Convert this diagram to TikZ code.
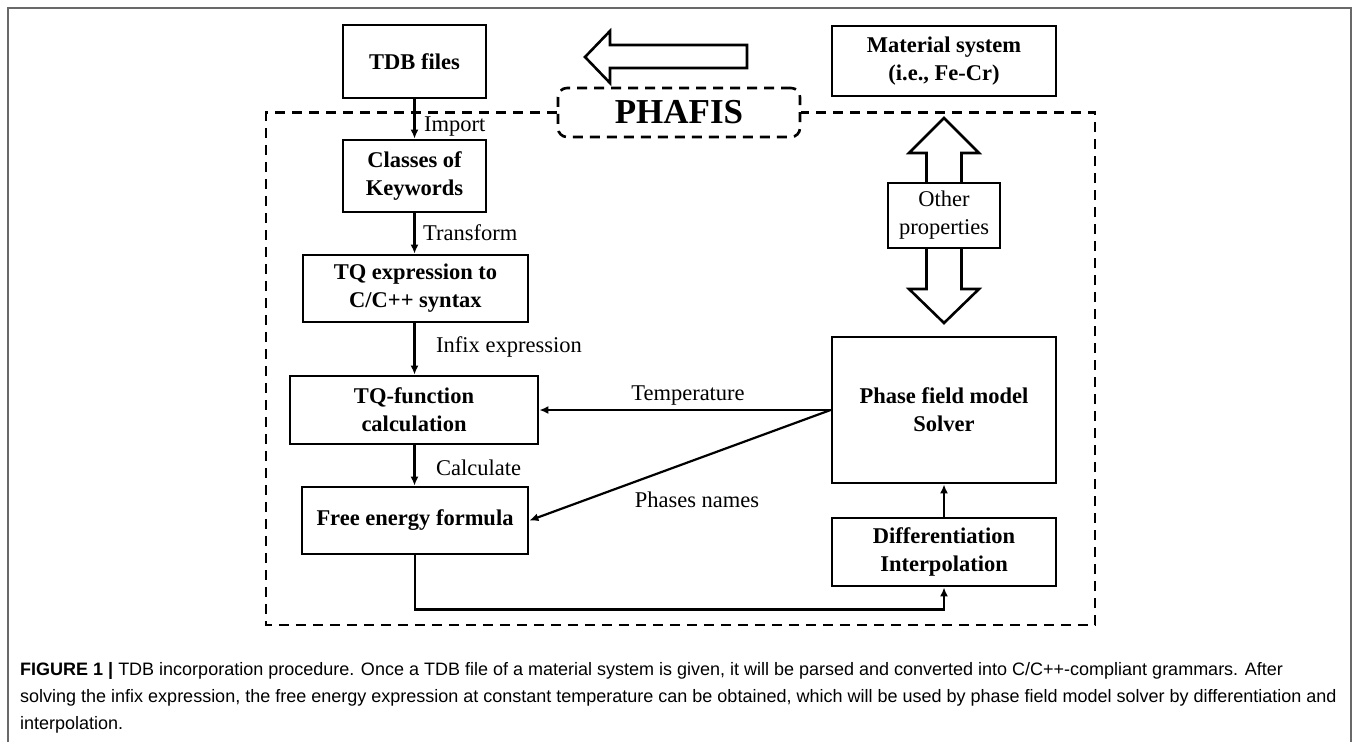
\documentclass[tikz,border=0pt]{standalone}
\usepackage{fontspec}
\setmainfont{Liberation Serif}
\newfontfamily\capfont{Liberation Sans}
\usetikzlibrary{arrows.meta,calc}
\definecolor{framegray}{RGB}{105,105,105}
\begin{document}
\begin{tikzpicture}[x=1pt,y=-1pt,
  bx/.style={draw,line width=2.8pt,inner sep=0pt,align=center,font=\bfseries\fontsize{22.5}{28}\selectfont},
  lbl/.style={inner sep=0pt,font=\fontsize{22.5}{28}\selectfont},
  conn/.style={line width=2.2pt,-{Latex[length=9pt,width=8pt]}},
  dsh/.style={line width=2.6pt,dash pattern=on 10pt off 7pt},
  hol/.style={draw,line width=2.6pt,fill=white,line join=miter},
  capt/.style={anchor=base west,inner sep=0pt,font=\capfont\fontsize{18}{22}\selectfont}]
\useasboundingbox (0,0) rectangle (1354,742);
% figure frame
\draw[framegray,line width=2pt] (8,742) -- (8,8) -- (1351,8) -- (1351,742);

% top row
\node[bx,minimum width=143pt,minimum height=73pt] (tdb) at (414.5,61.5) {TDB files};
\node[bx,minimum width=224pt,minimum height=70pt] (mat) at (944,61) {Material system\\(i.e., Fe-Cr)};
\draw[hol] (747,45) -- (610,45) -- (610,31) -- (585,57) -- (610,83) -- (610,68) -- (747,68) -- cycle;

% PHAFIS and outer dashed frame
\node[draw,dsh,rounded corners=9pt,minimum width=242pt,minimum height=49pt,inner sep=0pt,
      font=\bfseries\fontsize{35}{40}\selectfont] (ph) at (679,112.5) {PHAFIS};
\draw[dsh] (ph.west) -- (266,112.5) -- (266,625) -- (1095,625) -- (1095,112.5) -- (ph.east);

% left column
\node[bx,minimum width=143pt,minimum height=72pt] (cls) at (414.5,176) {Classes of\\Keywords};
\node[bx,minimum width=225pt,minimum height=67pt] (tqe) at (415.5,288.5) {TQ expression to\\C/C++ syntax};
\node[bx,minimum width=248pt,minimum height=68pt] (tqf) at (414,410) {TQ-function\\calculation};
\node[bx,minimum width=226pt,minimum height=67pt] (fe) at (415,520.5) {Free energy formula};

% right column
\node[bx,minimum width=224pt,minimum height=146pt] (phase) at (944,410) {Phase field model\\Solver};
\node[bx,minimum width=224pt,minimum height=68pt] (diff) at (944,552) {Differentiation\\Interpolation};

% hollow double arrow with box
\draw[hol,fill=none] (926.5,183) -- (926.5,153) -- (909,153) -- (944,118) -- (979,153) -- (961.5,153) -- (961.5,183);
\draw[hol,fill=none] (926.5,248) -- (926.5,289) -- (909,289) -- (944,323) -- (979,289) -- (961.5,289) -- (961.5,248);
\node[draw,line width=2.6pt,inner sep=0pt,minimum width=112pt,minimum height=65pt,align=center,
      font=\fontsize{22.5}{28}\selectfont] (oth) at (944,215.5) {Other\\properties};

% connectors
\draw[conn] (tdb.south) -- (cls.north);
\draw[conn] (cls.south) -- (cls.south |- tqe.north);
\draw[conn] (tqe.south -| cls.south) -- (cls.south |- tqf.north);
\draw[conn] (cls.south |- tqf.south) -- (cls.south |- fe.north);
\draw[conn] (phase.west) -- (tqf.east);
\draw[conn] (phase.west) -- (fe.east);
\draw[conn] (fe.south) -- ++(0,54) -| (diff.south);
\draw[conn] (diff.north) -- (phase.south);

% labels
\node[lbl,anchor=west] (limp) at (424,127) {Import};
\node[lbl,anchor=west] (ltr) at (423,233) {Transform};
\node[lbl,anchor=west] (linf) at (436,347) {Infix expression};
\node[lbl,anchor=west] (lcal) at (436,468) {Calculate};
\node[lbl] (ltmp) at (688,396) {Temperature};
\node[lbl] (lphn) at (697,500) {Phases names};

% caption
\node[capt] (cap1) at (20,675) {\textbf{FIGURE 1 |} TDB incorporation procedure. Once a TDB file of a material system is given, it will be parsed and converted into C/C++-compliant grammars. After};
\node[capt] (cap2) at (20,702) {solving the infix expression, the free energy expression at constant temperature can be obtained, which will be used by phase field model solver by differentiation and};
\node[capt] (cap3) at (20,729) {interpolation.};
\end{tikzpicture}
\end{document}
